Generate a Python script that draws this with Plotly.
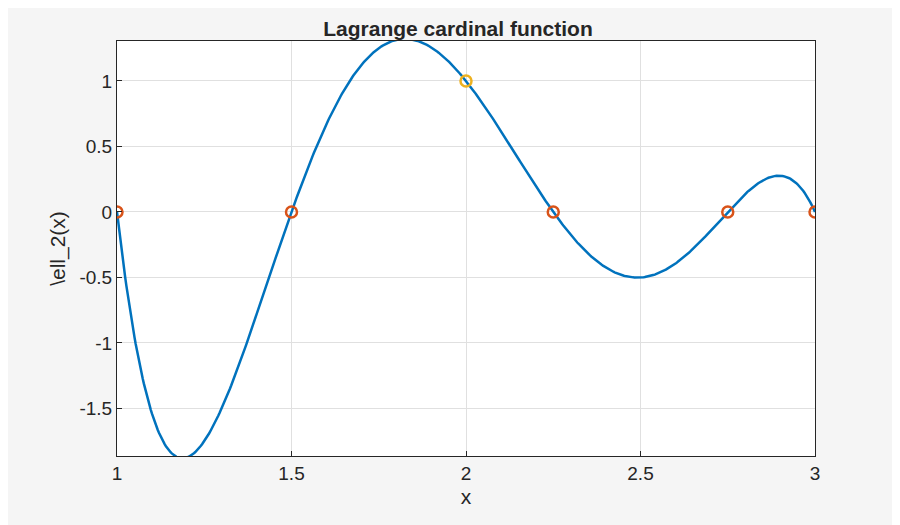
import numpy as np
import plotly.graph_objects as go

nodes = [1.0, 1.5, 2.0, 2.25, 2.75, 3.0]
node_vals = [0, 0, 1, 0, 0, 0]
k = 2  # cardinal index (node x=2)

xs = np.linspace(1, 3, 600)
ys = np.ones_like(xs)
for j, xj in enumerate(nodes):
    if j != k:
        ys *= (xs - xj) / (nodes[k] - xj)

fig = go.Figure()
fig.add_trace(go.Scatter(x=xs, y=ys, mode="lines", line=dict(color="#0072BD", width=2.5), showlegend=False))
others = [i for i in range(len(nodes)) if i != k]
fig.add_trace(go.Scatter(x=[nodes[i] for i in others], y=[node_vals[i] for i in others], mode="markers",
                         marker=dict(symbol="circle-open", size=11, color="#D95319", line=dict(width=2.5)), showlegend=False))
fig.add_trace(go.Scatter(x=[nodes[k]], y=[node_vals[k]], mode="markers",
                         marker=dict(symbol="circle-open", size=11, color="#EDB120", line=dict(width=2.5)), showlegend=False))

ax = dict(showline=True, linecolor="#262626", mirror=True, gridcolor="#e0e0e0", zeroline=False,
          ticks="inside", ticklen=5, tickcolor="#262626", tickfont=dict(size=19, color="#262626"))
fig.update_layout(
    width=900, height=525, paper_bgcolor="#f5f5f5", plot_bgcolor="white",
    margin=dict(l=109, r=93, t=33, b=77),
    font=dict(family="Liberation Sans, Arial", color="#262626"),
    title=dict(text="<b>Lagrange cardinal function</b>", x=0.5, xanchor="center", y=0.96, yanchor="middle", font=dict(size=21)),
    xaxis=dict(range=[1, 3], tickvals=[1, 1.5, 2, 2.5, 3], ticktext=["1", "1.5", "2", "2.5", "3"],
               title=dict(text="x", font=dict(size=21), standoff=6), **ax),
    yaxis=dict(range=[-1.863, 1.305], tickvals=[-1.5, -1, -0.5, 0, 0.5, 1], ticktext=["-1.5", "-1", "-0.5", "0", "0.5", "1"],
               title=dict(text="\\ell_2(x)", font=dict(size=21), standoff=8), **ax),
)
fig.write_html("out.html")
